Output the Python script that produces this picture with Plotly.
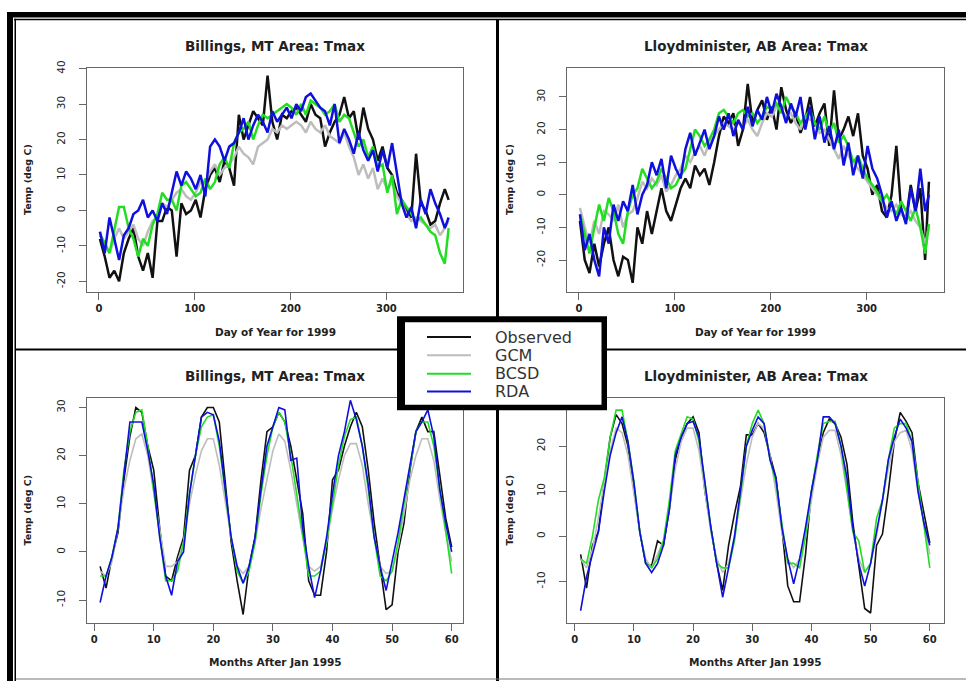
import plotly.graph_objects as go

W, H = 966, 681

# ---------------- data ----------------
days = [1, 6, 11, 16, 21, 26, 31, 36, 41, 46, 51, 56, 61, 66, 71, 76, 81, 86, 91, 96,
        101, 106, 111, 116, 121, 126, 131, 136, 141, 146, 151, 156, 161, 166, 171, 176,
        181, 186, 191, 196, 201, 206, 211, 216, 221, 226, 231, 236, 241, 246, 251, 256,
        261, 266, 271, 276, 281, 286, 291, 296, 301, 306, 311, 316, 321, 326, 331, 336,
        341, 346, 351, 356, 361, 365]

bil_obs_d = [-8, -13, -19, -17, -20, -12, -8, -5, -13, -17, -12, -19, -3, -3, 1, 0, -13, 2, -1, 0,
             3, -2, 6, 10, 12, 8, 14, 12, 7, 27, 20, 24, 28, 26, 24, 38,
             25, 20, 27, 26, 28, 29, 27, 25, 30, 27, 26, 18, 22, 25, 27, 32,
             26, 28, 20, 29, 23, 20, 14, 18, 12, 10, 5, 3, 0, -2, 16, 2,
             0, -4, -3, 2, 6, 3]
bil_gcm_d = [-6, -10, -12, -8, -5, -8, -6, -4, -8, -10, -6, -3, -2, 2, 1, 3, 5, 6, 4, 3,
             5, 8, 8, 11, 13, 10, 12, 13, 15, 18, 16, 15, 13, 18, 19, 20,
             23, 22, 24, 23, 24, 25, 24, 22, 25, 23, 22, 24, 21, 20, 19, 22,
             18, 15, 10, 13, 9, 12, 6, 9, 6, 8, 4, 2, -1, -3, -2, -3,
             -4, -5, -4, -7, -5, -3]
bil_bcsd_d = [-7, -9, -12, -5, 1, 1, -5, -8, -13, -8, -10, -4, -1, 5, 3, 3, 0, 7, 8, 6,
              4, 5, 9, 6, 8, 13, 15, 12, 19, 22, 23, 25, 20, 24, 27, 26,
              27, 28, 29, 30, 29, 27, 30, 27, 31, 30, 29, 27, 28, 30, 25, 27,
              26, 22, 18, 20, 15, 18, 12, 13, 5, 10, -1, 3, 1, -1, -3, -2,
              -4, -6, -7, -12, -15, -5]
bil_rda_d = [-6, -12, -2, -8, -14, -7, -5, -1, 0, 3, -2, 0, -3, 2, -1, 5, 11, 7, 11, 9,
             6, 10, 4, 18, 20, 18, 14, 18, 19, 22, 26, 20, 24, 27, 25, 22,
             28, 25, 27, 29, 26, 30, 28, 32, 33, 31, 29, 28, 24, 30, 19, 23,
             20, 16, 22, 17, 14, 17, 11, 17, 12, 19, 10, 2, -2, 1, -5, 3,
             -1, 6, 2, -1, -5, -2]

llo_obs_d = [-8, -20, -24, -15, -22, -15, -10, -20, -25, -19, -20, -27, -10, -15, -5, -12, -5, 2, -5, -8,
             -3, 2, 5, 2, 9, 6, 8, 3, 10, 18, 24, 22, 25, 15, 20, 34,
             22, 26, 29, 23, 27, 20, 33, 26, 22, 25, 19, 23, 30, 21, 25, 28,
             15, 32, 17, 20, 24, 18, 25, 12, 8, 0, 3, -5, -7, 0, 15, -5,
             -8, 3, -5, 2, -20, 4]
llo_gcm_d = [-4, -10, -15, -8, -12, -5, -6, -8, -3, -10, -6, -5, -1, 4, 2, 5, 3, 6, 1, 3,
             6, 8, 12, 10, 13, 15, 12, 16, 18, 20, 22, 21, 20, 22, 21, 23,
             20, 18, 22, 25, 24, 27, 26, 24, 25, 22, 20, 24, 23, 22, 19, 20,
             17, 14, 11, 15, 12, 10, 8, 6, 4, 2, 0, -2, -4, -5, -3, -6,
             -7, -5, -8, -10, -15, -10]
llo_bcsd_d = [-6, -12, -18, -10, -3, -8, -1, -5, -12, -15, -5, 0, 2, 8, 5, 2, 4, 8, 5, 2,
              3, 6, 8, 14, 20, 18, 15, 17, 20, 25, 26, 24, 22, 25, 26, 24,
              25, 22, 24, 27, 26, 28, 25, 30, 27, 25, 22, 24, 26, 22, 20, 24,
              19, 22, 16, 18, 15, 10, 12, 8, 5, 3, 1, -2, 0, -3, -6, -2,
              -5, -8, -4, -10, -18, -9]
llo_rda_d = [-6, -17, -12, -20, -25, -10, -15, -3, -8, -2, -5, 3, -6, 0, 3, 10, 6, 11, 2, 12,
             8, 5, 14, 19, 12, 16, 20, 14, 18, 24, 20, 25, 18, 23, 20, 27,
             21, 26, 23, 30, 25, 31, 27, 22, 28, 24, 30, 20, 27, 17, 24, 16,
             21, 14, 20, 9, 16, 6, 12, 5, 15, 8, 5, 0, -7, -2, -8, -4,
             -9, 2, -5, 8, -5, 0]

months = list(range(1, 61))

bil_obs_m = [-3, -7.5, -1, 4, 15, 24, 30, 29, 22, 17, 5, -5, -6, -1, 3, 17, 20, 28, 30, 30,
             27, 14, 2, -6, -13, -3, 3, 15, 25, 26, 29, 27, 22, 15, 8, -6, -9, -9, 0, 15,
             17, 22, 26, 29, 26, 17, 6, -3, -12, -11, 0, 6, 17, 25, 28, 25, 25, 16, 7, 1]
bil_gcm_m = [-4, -5, -2, 5, 13, 19, 23.5, 24.5, 20, 12, 4, -3, -3, -2, 2, 10, 16, 21, 23.5, 23.5,
             18, 10, 3, -3, -4.5, -3, 2, 9, 15, 21, 24.5, 23, 17, 10, 3, -3, -4, -3, 2, 9,
             15, 20, 22.5, 22.5, 18, 10, 3, -3, -4.5, -4, 1, 8, 15, 20, 23.5, 23.5, 19, 11, 4, -2]
bil_bcsd_m = [-5, -5, -1, 5, 17, 25, 29, 29.5, 22, 13, 3, -6, -6, -4, 2, 12, 20, 26, 28, 28.5,
              22, 13, 3, -4, -6.5, -4, 2, 12, 20, 26, 29, 27, 20, 12, 3, -5, -5, -4, 2, 10,
              18, 24, 27.5, 28, 22, 13, 3, -5, -6, -4, 2, 10, 18, 25, 27, 27, 22, 13, 4, -4.5]
bil_rda_m = [-10.5, -5, -1, 5, 16, 27, 27, 27, 21, 14, 3, -5, -9, -2, 0, 12, 20, 28, 29, 28.5,
             23, 13, 3, -3, -6.5, -3, 3, 13, 22, 26, 30, 29.5, 19, 19.5, 5, -3, -9.5, -4, 3, 12,
             20, 25, 31.5, 27.5, 22, 14, 3, -3, -8, -2, 4, 11, 18, 25, 27, 29.5, 24, 13, 6, 0]

llo_obs_m = [-4, -11.5, -2, 1, 12, 22, 27, 25, 20, 10, 1, -6, -6.5, -1, -2, 6, 17, 22, 25, 26.5,
             23, 10, 2, -6, -12, -2, 5, 11, 22.5, 22.5, 25, 23, 18, 13, 2, -11, -14.5, -14.5, -4, 10,
             17, 23, 26, 25, 22, 16, 3, -7, -16, -17, -2, 0.5, 10, 21, 27.5, 25.5, 23, 12, 5, -1.5]
llo_gcm_m = [-5, -7, -3, 4, 12, 19, 24, 23, 18, 10, 1, -5, -7, -4, -1, 6, 15, 21, 24, 24,
             19, 10, 1, -5, -8, -6, 0, 8, 16, 22, 25, 24, 18, 10, 1, -5, -7, -5, 0, 8,
             16, 22, 23.5, 23.5, 18, 10, 1, -5, -8, -6, 0, 8, 15, 21, 23, 23.5, 19, 10, 3, -4]
llo_bcsd_m = [-5, -6, 0, 8, 13, 22, 28, 28, 21, 12, 1, -6, -7, -5, -1, 8, 19, 23, 26.5, 26,
              21, 12, 2, -6, -7, -7, -1, 9, 20, 25, 28, 25, 17, 12, 3, -6, -6, -7, 0, 10,
              18, 25, 25.5, 25.5, 20, 11, 1, -1, -8, -6, 4, 8, 17, 24, 25, 25, 21, 12, 3, -7]
llo_rda_m = [-16.5, -9, -4, 1, 10, 18, 23, 26.5, 21, 12, 1, -6, -8, -6, -2, 6, 18, 22, 25, 25.5,
             22, 12, 2, -6, -13.5, -7, 0, 10, 20, 23.5, 26.5, 25, 17, 13, 2, -5, -10.5, -5, 2, 10,
             17, 26.5, 26.5, 25, 20, 13, 2, -6, -11, -6, 1, 8, 17, 22, 26, 24, 21, 10, 3, -2]

series_names = ["Observed", "GCM", "BCSD", "RDA"]
series_colors = ["#111111", "#bdbdbd", "#22dd22", "#1010dd"]

panels = [
    dict(x=days, ys=[bil_obs_d, bil_gcm_d, bil_bcsd_d, bil_rda_d], lw=2.5),
    dict(x=days, ys=[llo_obs_d, llo_gcm_d, llo_bcsd_d, llo_rda_d], lw=2.5),
    dict(x=months, ys=[bil_obs_m, bil_gcm_m, bil_bcsd_m, bil_rda_m], lw=1.6),
    dict(x=months, ys=[llo_obs_m, llo_gcm_m, llo_bcsd_m, llo_rda_m], lw=1.6),
]

titles = ["Billings, MT Area: Tmax", "Lloydminister, AB Area: Tmax",
          "Billings, MT Area: Tmax", "Lloydminister, AB Area: Tmax"]
xtitles = ["Day of Year for 1999", "Day of Year for 1999",
           "Months After Jan 1995", "Months After Jan 1995"]
ytitle = "Temp (deg C)"

# ---------------- layout helpers ----------------
def px(x):
    return x / W

def py(y):
    return 1 - y / H

boxes = [(87, 463, 61, 287), (567, 944, 61, 287), (87, 463, 395, 622), (567, 944, 395, 622)]
xranges = [[-12.5, 380], [-12.5, 380.7], [-1.2, 61.9], [-1.3, 62.4]]
yranges = [[-22.9, 40.1], [-29.7, 38.8], [-14.7, 31.9], [-19.15, 30.6]]
xticks = [[0, 100, 200, 300], [0, 100, 200, 300], list(range(0, 61, 10)), list(range(0, 61, 10))]
yticks = [list(range(-20, 41, 10)), list(range(-20, 31, 10)), list(range(-10, 31, 10)), [-10, 0, 10, 20]]

fig = go.Figure()
TXT = "#222222"
AX = "#666666"

for i, p in enumerate(panels):
    xa = "x" if i == 0 else f"x{i+1}"
    ya = "y" if i == 0 else f"y{i+1}"
    for name, col, yv in zip(series_names, series_colors, p["ys"]):
        fig.add_trace(go.Scatter(x=p["x"], y=yv, mode="lines", name=name,
                                 line=dict(color=col, width=p["lw"]),
                                 xaxis=xa, yaxis=ya, showlegend=False))
    l, r, t, b = boxes[i]
    axcommon = dict(showgrid=False, zeroline=False, showline=True, mirror=True,
                    linecolor=AX, linewidth=1, ticks="outside", ticklen=7,
                    tickcolor=AX, tickwidth=1)
    xkey = "xaxis" if i == 0 else f"xaxis{i+1}"
    ykey = "yaxis" if i == 0 else f"yaxis{i+1}"
    fig.update_layout({
        xkey: dict(domain=[px(l), px(r)], range=xranges[i], tickmode="array",
                   tickvals=xticks[i], ticktext=[f"<b>{v}</b>" for v in xticks[i]],
                   tickfont=dict(family="DejaVu Sans", size=10, color=TXT),
                   anchor=ya, **axcommon),
        ykey: dict(domain=[py(b), py(t)], range=yranges[i], tickmode="array",
                   tickvals=yticks[i], ticktext=[str(v) for v in yticks[i]],
                   tickangle=-90, ticklabelstandoff=10,
                   tickfont=dict(family="DejaVu Sans", size=10.5, color=TXT),
                   anchor=xa, **axcommon),
    })
    cx = (l + r) / 2
    ty = 38 if i < 2 else 372
    xty = 328 if i < 2 else 662
    fig.add_annotation(x=px(cx), y=py(ty), xref="paper", yref="paper",
                       text=f"<b>{titles[i]}</b>", showarrow=False,
                       font=dict(family="DejaVu Sans", size=13.5, color=TXT),
                       xanchor="center", yanchor="middle")
    fig.add_annotation(x=px(cx), y=py(xty), xref="paper", yref="paper",
                       text=f"<b>{xtitles[i]}</b>", showarrow=False,
                       font=dict(family="DejaVu Sans", size=10.5, color=TXT),
                       xanchor="center", yanchor="middle")
    fig.add_annotation(x=px(28 if i % 2 == 0 else 510), y=py((t + b) / 2),
                       xref="paper", yref="paper", textangle=-90,
                       text=f"<b>{ytitle}</b>", showarrow=False,
                       font=dict(family="DejaVu Sans", size=9.5, color=TXT),
                       xanchor="center", yanchor="middle")

# ---------------- frame ----------------
def rect(x0, y0, x1, y1, color, line_w=0):
    fig.add_shape(type="rect", xref="paper", yref="paper",
                  x0=px(x0), x1=px(x1), y0=py(y1), y1=py(y0),
                  fillcolor=color, line=dict(width=line_w, color=color), layer="above")

rect(7, 4, 966, 9.5, "black")          # top thick bar
rect(14, 11, 966, 12.5, "black")       # top thin line
rect(7, 4, 13, 681, "black")           # left thick bar
rect(14.5, 11, 16, 681, "black")       # left thin line
rect(496, 12, 499, 681, "black")       # vertical divider
rect(16, 344.5, 966, 346.5, "black")   # horizontal divider
rect(16, 678.5, 966, 679.5, "#777777") # bottom line

# ---------------- legend box ----------------
rect(397, 312, 607, 407, "black")
rect(405, 318, 601.5, 401.5, "white")
leg_y = [333, 351.5, 370, 388]
for name, col, yy in zip(series_names, series_colors, leg_y):
    fig.add_shape(type="line", xref="paper", yref="paper",
                  x0=px(427), x1=px(471), y0=py(yy), y1=py(yy),
                  line=dict(color=col, width=2), layer="above")
    fig.add_annotation(x=px(493), y=py(yy), xref="paper", yref="paper",
                       text=name, showarrow=False, xanchor="left", yanchor="middle",
                       font=dict(family="DejaVu Sans", size=16, color="#333333"))

fig.update_layout(width=W, height=H, margin=dict(l=0, r=0, t=0, b=0),
                  paper_bgcolor="white", plot_bgcolor="white", showlegend=False)

fig.write_html("out.html")
